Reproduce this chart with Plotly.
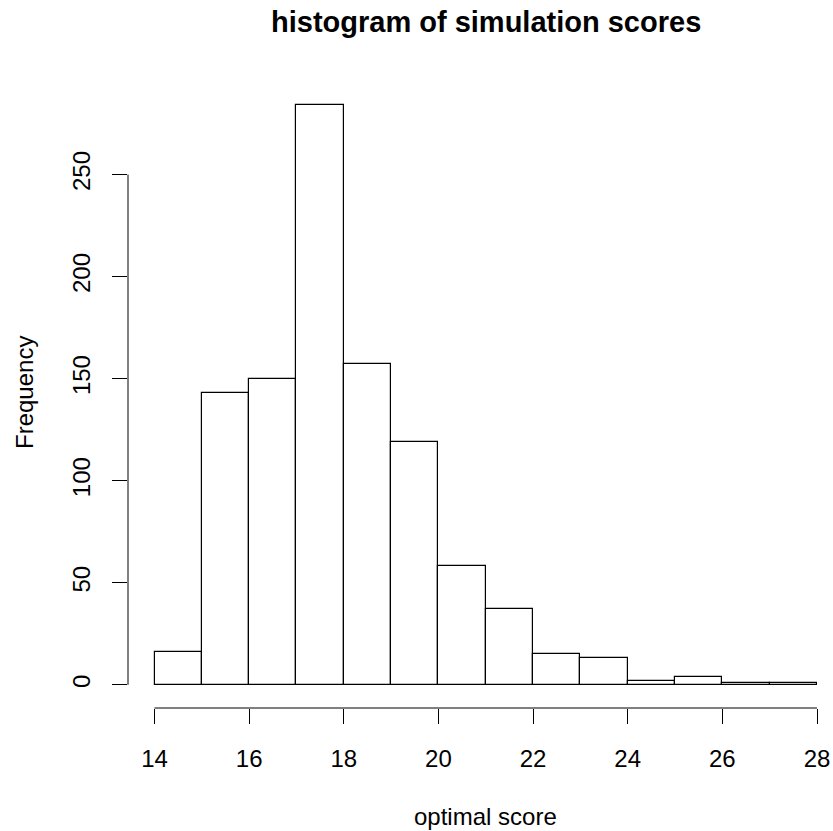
import plotly.graph_objects as go

breaks = list(range(14, 29))
counts = [16, 143, 150, 284, 157, 119, 58, 37, 15, 13, 2, 4, 1, 1]
x_ticks = [14, 16, 18, 20, 22, 24, 26, 28]
y_ticks = [0, 50, 100, 150, 200, 250]
title = "histogram of simulation scores"
xlabel = "optimal score"
ylabel = "Frequency"

mids = [(breaks[i] + breaks[i + 1]) / 2 for i in range(len(counts))]
widths = [breaks[i + 1] - breaks[i] for i in range(len(counts))]

font = "Liberation Sans, Arial, Helvetica, sans-serif"

W, H = 833, 831
L, T, B, R = 128, 82, 123, 0
PW, PH = W - L - R, H - T - B


def px_x(px):
    return (px - L) / PW


def px_y(py):
    return (H - B - py) / PH


fig = go.Figure(go.Bar(
    x=mids, y=counts, width=widths,
    marker=dict(color="white", line=dict(color="black", width=1.2)),
    hoverinfo="x+y",
))

xr = breaks[-1] - breaks[0]
x0 = breaks[0] - 0.04 * xr
ppu = (817 - 154.5) / xr
ymax = max(counts)
fig.update_layout(
    width=W, height=H,
    paper_bgcolor="white", plot_bgcolor="white",
    margin=dict(l=L, r=R, t=T, b=B, pad=0),
    font=dict(family=font, size=24, color="black"),
    showlegend=False,
    bargap=0,
    xaxis=dict(range=[x0, x0 + PW / ppu],
               tickvals=x_ticks, ticks="outside", ticklen=15, tickwidth=1,
               tickcolor="black", showgrid=False, zeroline=False, showline=False,
               tickfont=dict(size=24), ticklabelstandoff=14),
    yaxis=dict(range=[-0.04 * ymax, ymax * 1.04],
               tickvals=y_ticks, ticks="outside", ticklen=15, tickwidth=1,
               tickcolor="black", showgrid=False, zeroline=False, showline=False,
               tickangle=-90, tickfont=dict(size=24), ticklabelstandoff=12),
    shapes=[
        dict(type="line", xref="x", yref="paper", x0=x_ticks[0], x1=x_ticks[-1],
             y0=0, y1=0, line=dict(color="black", width=1)),
        dict(type="line", xref="paper", yref="y", x0=0, x1=0,
             y0=y_ticks[0], y1=y_ticks[-1], line=dict(color="black", width=1)),
    ],
    annotations=[
        dict(text="<b>" + title + "</b>", xref="paper", yref="paper",
             x=px_x(486), y=px_y(22), showarrow=False,
             font=dict(size=29), xanchor="center", yanchor="middle"),
        dict(text=xlabel, xref="paper", yref="paper",
             x=px_x(486), y=px_y(816), showarrow=False,
             font=dict(size=24), xanchor="center", yanchor="middle"),
        dict(text=ylabel, xref="paper", yref="paper", textangle=-90,
             x=px_x(24), y=px_y(393), showarrow=False,
             font=dict(size=24), xanchor="center", yanchor="middle"),
    ],
)

fig.write_html("out.html", config={"displayModeBar": False},
               post_script="document.body.style.margin='0';")
